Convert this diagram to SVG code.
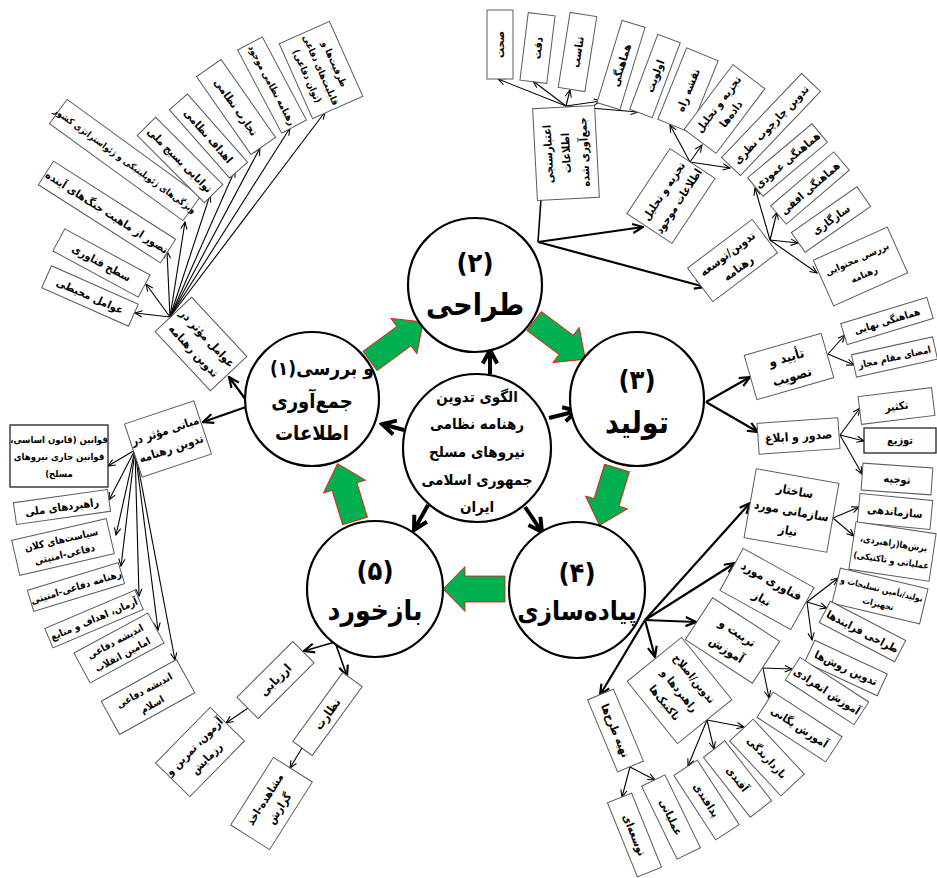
<svg xmlns="http://www.w3.org/2000/svg" width="937" height="878" viewBox="0 0 937 878">
<style>
.b{fill:#fff;stroke:#5a5a5a;stroke-width:1}
.bd{fill:#fff;stroke:#222;stroke-width:1.3}
.t{font-family:"DejaVu Sans Condensed","DejaVu Sans",sans-serif;font-stretch:condensed;font-weight:bold;font-size:11px;text-anchor:middle;direction:rtl;unicode-bidi:embed;fill:#000}
.c{fill:#fff;stroke:#000;stroke-width:2.2}
.ct{font-family:"DejaVu Sans Condensed","DejaVu Sans",sans-serif;font-stretch:condensed;font-weight:bold;font-size:27px;text-anchor:middle;direction:rtl;unicode-bidi:embed;fill:#000}
.l{stroke:#000;stroke-width:1.1;fill:none;marker-end:url(#ah)}
.L{stroke:#000;stroke-width:2.2;fill:none;marker-end:url(#AH)}
.X{stroke:#000;stroke-width:4;fill:none;marker-end:url(#XH)}
.p{stroke:#000;stroke-width:1.6;fill:none}
.g{fill:#00b050;stroke:#ff0000;stroke-width:0.8}
</style>
<defs>
<marker id="ah" viewBox="0 0 10 10" refX="9" refY="5" markerWidth="9" markerHeight="9" markerUnits="userSpaceOnUse" orient="auto"><path d="M1,1.5 L9,5 L1,8.5" fill="none" stroke="#000" stroke-width="1.2"/></marker>
<marker id="AH" viewBox="0 0 10 10" refX="9" refY="5" markerWidth="13" markerHeight="13" markerUnits="userSpaceOnUse" orient="auto"><path d="M1,1.5 L9,5 L1,8.5" fill="none" stroke="#000" stroke-width="1.7"/></marker>
<marker id="XH" viewBox="0 0 10 10" refX="8.5" refY="5" markerWidth="18" markerHeight="18" markerUnits="userSpaceOnUse" orient="auto"><path d="M1,1 L8.5,5 L1,9" fill="none" stroke="#000" stroke-width="2.2"/></marker>
</defs>
<rect width="937" height="878" fill="#fff"/>

<g id="connectors">
<line class="l" x1="170" y1="317" x2="135" y2="313"/>
<line class="l" x1="170" y1="317" x2="146" y2="284"/>
<line class="l" x1="170" y1="317" x2="167" y2="251"/>
<line class="l" x1="170" y1="317" x2="185" y2="222"/>
<line class="l" x1="170" y1="317" x2="210" y2="195"/>
<line class="l" x1="170" y1="317" x2="235" y2="170"/>
<line class="l" x1="170" y1="317" x2="260" y2="148"/>
<line class="l" x1="170" y1="317" x2="290" y2="128"/>
<line class="l" x1="170" y1="317" x2="325" y2="112"/>
<line class="L" x1="246" y1="400" x2="229" y2="377"/>
<line class="L" x1="246" y1="407" x2="203" y2="422"/>
<line class="l" x1="135" y1="450" x2="108" y2="466"/>
<line class="l" x1="135" y1="450" x2="109" y2="500"/>
<line class="l" x1="135" y1="450" x2="116" y2="535"/>
<line class="l" x1="135" y1="450" x2="121" y2="566"/>
<line class="l" x1="135" y1="450" x2="139" y2="596"/>
<line class="l" x1="135" y1="450" x2="158" y2="630"/>
<line class="l" x1="135" y1="450" x2="175" y2="660"/>
<line class="p" x1="538" y1="242" x2="541" y2="199"/>
<line class="L" x1="538" y1="242" x2="643" y2="227"/>
<line class="L" x1="538" y1="242" x2="705" y2="287"/>
<line class="l" x1="566" y1="106" x2="498" y2="79"/>
<line class="l" x1="566" y1="106" x2="533" y2="81"/>
<line class="l" x1="566" y1="106" x2="570" y2="90"/>
<line class="l" x1="566" y1="106" x2="601" y2="101"/>
<line class="l" x1="566" y1="106" x2="638" y2="112"/>
<line class="l" x1="690" y1="162" x2="670" y2="125"/>
<line class="l" x1="690" y1="162" x2="702" y2="145"/>
<line class="l" x1="690" y1="162" x2="730" y2="168"/>
<line class="l" x1="770" y1="240" x2="755" y2="188"/>
<line class="l" x1="770" y1="240" x2="777" y2="212"/>
<line class="l" x1="770" y1="240" x2="798" y2="243"/>
<line class="l" x1="770" y1="240" x2="817" y2="273"/>
<line class="L" x1="706" y1="402" x2="750" y2="377"/>
<line class="L" x1="706" y1="402" x2="758" y2="432"/>
<line class="l" x1="828" y1="354" x2="845" y2="335"/>
<line class="l" x1="828" y1="354" x2="854" y2="365"/>
<line class="l" x1="840" y1="435" x2="860" y2="408"/>
<line class="l" x1="840" y1="435" x2="864" y2="441"/>
<line class="l" x1="840" y1="435" x2="862" y2="474"/>
<line class="L" x1="645" y1="620" x2="750" y2="503"/>
<line class="L" x1="645" y1="620" x2="735" y2="563"/>
<line class="L" x1="645" y1="620" x2="696" y2="622"/>
<line class="L" x1="645" y1="620" x2="655" y2="657"/>
<line class="L" x1="645" y1="620" x2="600" y2="695"/>
<line class="l" x1="833" y1="518" x2="859" y2="507"/>
<line class="l" x1="833" y1="518" x2="854" y2="536"/>
<line class="l" x1="807" y1="602" x2="838" y2="578"/>
<line class="l" x1="807" y1="602" x2="827" y2="608"/>
<line class="l" x1="807" y1="602" x2="812" y2="640"/>
<line class="l" x1="763" y1="668" x2="792" y2="669"/>
<line class="l" x1="763" y1="668" x2="769" y2="698"/>
<line class="l" x1="707" y1="720" x2="744" y2="727"/>
<line class="l" x1="707" y1="720" x2="714" y2="749"/>
<line class="l" x1="707" y1="720" x2="688" y2="766"/>
<line class="l" x1="630" y1="767" x2="622" y2="797"/>
<line class="l" x1="630" y1="767" x2="655" y2="780"/>
<line class="L" x1="335" y1="642" x2="304" y2="651" style="stroke-width:1.6"/>
<line class="L" x1="335" y1="642" x2="347" y2="676" style="stroke-width:1.6"/>
<line class="l" x1="248" y1="708" x2="226" y2="723"/>
<line class="l" x1="302" y1="748" x2="290" y2="768"/>
<line class="X" x1="490" y1="374" x2="490" y2="350"/>
<line class="X" x1="404" y1="430" x2="382" y2="424"/>
<line class="X" x1="549" y1="418" x2="577" y2="411"/>
<line class="X" x1="428" y1="505" x2="414" y2="530"/>
<line class="X" x1="525" y1="507" x2="542" y2="532"/>
<path class="g" transform="translate(370,361) rotate(-36.3)" d="M0,-12 H42 V-22 L66,0 L42,22 V12 H0 Z"/>
<path class="g" transform="translate(534,321) rotate(36.7)" d="M0,-12 H40 V-22 L64,0 L40,22 V12 H0 Z"/>
<path class="g" transform="translate(617,468) rotate(107)" d="M0,-13 H36 V-22 L60,0 L36,22 V13 H0 Z"/>
<path class="g" transform="translate(505,589) rotate(180)" d="M0,-13 H40 V-22.5 L62,0 L40,22.5 V13 H0 Z"/>
<path class="g" transform="translate(355,521) rotate(-107)" d="M0,-13 H36 V-22 L60,0 L36,22 V13 H0 Z"/>
</g>

<g id="circle1"><circle class="c" cx="312" cy="399" r="67"/><text class="ct" x="283" y="375" style="font-size:19px">(۱)</text><text class="ct" x="335" y="375" style="font-size:19px">و بررسی</text><text class="ct" style="font-size:20px"><tspan x="312" y="408">جمع‌آوری</tspan><tspan x="312" y="440">اطلاعات</tspan></text></g>
<g id="circle2"><circle class="c" cx="475" cy="285" r="67"/><text class="ct"><tspan x="475" y="272">(۲)</tspan><tspan x="475" y="315" style="font-size:30px">طراحی</tspan></text></g>
<g id="circle3"><circle class="c" cx="637" cy="399" r="67"/><text class="ct"><tspan x="637" y="389">(۳)</tspan><tspan x="637" y="433" style="font-size:30px">تولید</tspan></text></g>
<g id="circle4"><circle class="c" cx="577" cy="590" r="68"/><text class="ct"><tspan x="577" y="582">(۴)</tspan><tspan x="577" y="620" style="font-size:26px">پیاده‌سازی</tspan></text></g>
<g id="circle5"><circle class="c" cx="375" cy="589" r="68"/><text class="ct"><tspan x="375" y="580">(۵)</tspan><tspan x="375" y="620" style="font-size:28px">بازخورد</tspan></text></g>
<g id="center"><circle class="c" cx="477" cy="448" r="74"/><text class="t" style="font-size:15px"><tspan x="477" y="402">الگوی تدوین</tspan><tspan x="477" y="429">رهنامه نظامی</tspan><tspan x="477" y="457">نیروهای مسلح</tspan><tspan x="477" y="485">جمهوری اسلامی</tspan><tspan x="477" y="512">ایران</tspan></text></g>

<g id="n_env" transform="translate(90,296) rotate(24)"><rect class="b" x="-47.5" y="-12" width="95" height="24"/><text class="t" y="4">عوامل محیطی</text></g>
<g id="n_tech" transform="translate(101.5,263) rotate(28.4)"><rect class="b" x="-48.5" y="-12.5" width="97" height="25"/><text class="t" y="4">سطح فناوری</text></g>
<g id="n_future" transform="translate(107,212) rotate(32.6)"><rect class="b" x="-72.5" y="-14" width="145" height="28"/><text class="t" y="4">تصور از ماهیت جنگ‌های آینده</text></g>
<g id="n_geo" transform="translate(125,160) rotate(36)"><rect class="b" x="-82.5" y="-15" width="165" height="30"/><text class="t" y="3.5" style="font-size:9px">ویژگی‌های ژئوپلیتیکی و ژئواستراتژی کشور</text></g>
<g id="n_mob" transform="translate(180,160) rotate(45)"><rect class="b" x="-47.5" y="-13" width="95" height="26"/><text class="t" y="4">توانایی بسیج ملی</text></g>
<g id="n_goal" transform="translate(208.5,136) rotate(48.6)"><rect class="b" x="-45.5" y="-12" width="91" height="24"/><text class="t" y="4">اهداف نظامی</text></g>
<g id="n_exp" transform="translate(236,107) rotate(55)"><rect class="b" x="-47.5" y="-15" width="95" height="30"/><text class="t" y="4">تجارب نظامی</text></g>
<g id="n_doc" transform="translate(272,85) rotate(62)"><rect class="b" x="-47" y="-14" width="94" height="28"/><text class="t" y="3.5" style="font-size:9.5px">رهنامه نظامی موجود</text></g>
<g id="n_cap" transform="translate(321,70) rotate(66)"><rect class="b" x="-41" y="-27.5" width="82" height="55"/><text class="t" style="font-size:9.5px"><tspan x="0" y="-11.5">ظرفیت‌ها و</tspan><tspan x="0" y="3.5">قابلیت‌های دفاعی</tspan><tspan x="0" y="18.5">(توان دفاعی)</tspan></text></g>
<g id="n_factors" transform="translate(201,344) rotate(47)"><rect class="b" x="-40.5" y="-25" width="81" height="50"/><text class="t" style="font-size:11.5px"><tspan x="0" y="-4.5">عوامل مؤثر در</tspan><tspan x="0" y="14">تدوین رهنامه</tspan></text></g>

<g id="n_basis" transform="translate(168,439) rotate(-18.4)"><rect class="b" x="-36.5" y="-28" width="73" height="56"/><text class="t" style="font-size:11.5px"><tspan x="0" y="-5">مبانی مؤثر در</tspan><tspan x="0" y="14">تدوین رهنامه</tspan></text></g>
<g id="n_law"><rect class="bd" x="10" y="425" width="98" height="62"/><text class="t" style="font-size:9.5px"><tspan x="59" y="443">قوانین (قانون اساسی،</tspan><tspan x="59" y="460">قوانین جاری نیروهای</tspan><tspan x="59" y="477">مسلح)</tspan></text></g>
<g id="n_natstr" transform="translate(62,507) rotate(-8)"><rect class="b" x="-47.5" y="-11" width="95" height="22"/><text class="t" y="4">راهبردهای ملی</text></g>
<g id="n_policy" transform="translate(63,547) rotate(-13)"><rect class="b" x="-48.5" y="-18" width="97" height="36"/><text class="t" style="font-size:10px"><tspan x="0" y="-4">سیاست‌های کلان</tspan><tspan x="0" y="11">دفاعی-امنیتی</tspan></text></g>
<g id="n_defdoc" transform="translate(76,587) rotate(-17)"><rect class="b" x="-47.5" y="-11" width="95" height="22"/><text class="t" y="3.5" style="font-size:10px">رهنامه دفاعی-امنیتی</text></g>
<g id="n_ideal" transform="translate(94,619) rotate(-23)"><rect class="b" x="-49" y="-10.5" width="98" height="21"/><text class="t" y="3.5" style="font-size:10px">آرمان، اهداف و منابع</text></g>
<g id="n_imam" transform="translate(119,648) rotate(-28.4)"><rect class="b" x="-42" y="-17" width="84" height="34"/><text class="t" style="font-size:10px"><tspan x="0" y="-4">اندیشه دفاعی</tspan><tspan x="0" y="11">امامین انقلاب</tspan></text></g>
<g id="n_islam" transform="translate(148,697) rotate(-29)"><rect class="b" x="-43" y="-19" width="86" height="38"/><text class="t" style="font-size:10px"><tspan x="0" y="-4">اندیشه دفاعی</tspan><tspan x="0" y="12">اسلام</tspan></text></g>

<g id="n_valid" transform="translate(566,153) rotate(-93)"><rect class="b" x="-46" y="-31" width="92" height="62"/><text class="t"><tspan x="0" y="-14">اعتبارسنجی</tspan><tspan x="0" y="4">اطلاعات</tspan><tspan x="0" y="22">جمع‌آوری شده</tspan></text></g>
<g id="n_sehat" transform="translate(500,44.5) rotate(-90)"><rect class="b" x="-34.5" y="-13" width="69" height="26"/><text class="t" y="4">صحت</text></g>
<g id="n_deghat" transform="translate(537.5,48) rotate(-83)"><rect class="b" x="-34" y="-13.5" width="68" height="27"/><text class="t" y="4">دقت</text></g>
<g id="n_tanasob" transform="translate(577.5,52) rotate(-81)"><rect class="b" x="-38" y="-13.5" width="76" height="27"/><text class="t" y="4">تناسب</text></g>
<g id="n_hamahangi" transform="translate(621,65) rotate(-73)"><rect class="b" x="-43" y="-12" width="86" height="24"/><text class="t" y="4">هماهنگی</text></g>
<g id="n_olaviat" transform="translate(655,76) rotate(-69.5)"><rect class="b" x="-40" y="-12" width="80" height="24"/><text class="t" y="4">اولویت</text></g>
<g id="n_analysis" transform="translate(671,196) rotate(-56.5)"><rect class="b" x="-39" y="-27" width="78" height="54"/><text class="t" style="font-size:11px"><tspan x="0" y="-5">تجزیه و تحلیل</tspan><tspan x="0" y="13">اطلاعات موجود</tspan></text></g>
<g id="n_roadmap" transform="translate(688,90) rotate(-68)"><rect class="b" x="-38.5" y="-17" width="77" height="34"/><text class="t" y="4">نقشه راه</text></g>
<g id="n_dataan" transform="translate(724.5,109) rotate(-53)"><rect class="b" x="-40.5" y="-20" width="81" height="40"/><text class="t"><tspan x="0" y="-4">تجزیه و تحلیل</tspan><tspan x="0" y="12">داده‌ها</tspan></text></g>
<g id="n_framework" transform="translate(771,124.5) rotate(-46.4)"><rect class="b" x="-58" y="-13" width="116" height="26"/><text class="t" y="4">تدوین چارچوب نظری</text></g>
<g id="n_develop" transform="translate(732.5,260.5) rotate(-37)"><rect class="b" x="-40.5" y="-21" width="81" height="42"/><text class="t" style="font-size:11.5px"><tspan x="0" y="-4.5">تدوین/توسعه</tspan><tspan x="0" y="13.5">رهنامه</tspan></text></g>
<g id="n_vert" transform="translate(787.5,160) rotate(-40)"><rect class="b" x="-42" y="-12" width="84" height="24"/><text class="t" y="4">هماهنگی عمودی</text></g>
<g id="n_horiz" transform="translate(810,188) rotate(-40.6)"><rect class="b" x="-41.5" y="-12" width="83" height="24"/><text class="t" y="4">هماهنگی افقی</text></g>
<g id="n_compat" transform="translate(831,219.5) rotate(-35)"><rect class="b" x="-40" y="-12" width="80" height="24"/><text class="t" y="4">سازگاری</text></g>
<g id="n_review" transform="translate(860.5,266.5) rotate(-24)"><rect class="b" x="-40.5" y="-25" width="81" height="50"/><text class="t" style="font-size:9.5px"><tspan x="0" y="-5">بررسی محتوایی</tspan><tspan x="0" y="12">رهنامه</tspan></text></g>

<g id="n_approve" transform="translate(789,366.5) rotate(-16)"><rect class="b" x="-40" y="-23" width="80" height="46"/><text class="t" style="font-size:13px"><tspan x="0" y="-5">تأیید و</tspan><tspan x="0" y="15">تصویب</tspan></text></g>
<g id="n_final" transform="translate(887,321) rotate(-17)"><rect class="b" x="-45" y="-11" width="90" height="22"/><text class="t" y="3.5" style="font-size:10px">هماهنگی نهایی</text></g>
<g id="n_sign" transform="translate(894.5,357) rotate(-12.5)"><rect class="b" x="-41.5" y="-11.5" width="83" height="23"/><text class="t" y="3.5" style="font-size:9.5px">امضای مقام مجاز</text></g>
<g id="n_issue" transform="translate(798.5,436) rotate(-4)"><rect class="b" x="-40.5" y="-15.5" width="81" height="31"/><text class="t" y="4.5" style="font-size:12px">صدور و ابلاغ</text></g>
<g id="n_copy" transform="translate(896.5,406) rotate(-7)"><rect class="b" x="-37" y="-14" width="74" height="28"/><text class="t" y="4">تکثیر</text></g>
<g id="n_dist"><rect class="bd" x="864" y="428" width="72" height="25"/><text class="t" x="900" y="444">توزیع</text></g>
<g id="n_brief" transform="translate(897,479) rotate(4)"><rect class="b" x="-35" y="-13.5" width="70" height="27"/><text class="t" y="4">توجیه</text></g>
<g id="n_struct" transform="translate(791.5,510.5) rotate(10)"><rect class="b" x="-42" y="-35" width="84" height="70"/><text class="t" style="font-size:12px"><tspan x="0" y="-15.5">ساختار</tspan><tspan x="0" y="4.5">سازمانی مورد</tspan><tspan x="0" y="24.5">نیاز</tspan></text></g>
<g id="n_org" transform="translate(895,511.5) rotate(5.5)"><rect class="b" x="-36.5" y="-14.5" width="73" height="29"/><text class="t" y="4">سازماندهی</text></g>
<g id="n_cuts" transform="translate(892.5,551.5) rotate(8.5)"><rect class="b" x="-40.5" y="-24" width="81" height="48"/><text class="t" style="font-size:9px"><tspan x="0" y="-5">برش‌ها(راهبردی،</tspan><tspan x="0" y="12">عملیاتی و تاکتیکی)</tspan></text></g>
<g id="n_techreq" transform="translate(767,589) rotate(29)"><rect class="b" x="-40.5" y="-24" width="81" height="48"/><text class="t" style="font-size:12px"><tspan x="0" y="-5">فناوری مورد</tspan><tspan x="0" y="15">نیاز</tspan></text></g>
<g id="n_arms" transform="translate(880,596) rotate(13.4)"><rect class="b" x="-45" y="-18" width="90" height="36"/><text class="t" style="font-size:8.5px"><tspan x="0" y="-4">تولید/تأمین تسلیحات و</tspan><tspan x="0" y="11">تجهیزات</tspan></text></g>
<g id="n_process" transform="translate(862.5,631.5) rotate(27.5)"><rect class="b" x="-42.5" y="-12" width="85" height="24"/><text class="t" y="4">طراحی فرایندها</text></g>
<g id="n_methods" transform="translate(846,668) rotate(25)"><rect class="b" x="-40" y="-12" width="80" height="24"/><text class="t" y="4">تدوین روش‌ها</text></g>
<g id="n_train" transform="translate(732.5,640.5) rotate(33)"><rect class="b" x="-40" y="-25" width="80" height="50"/><text class="t" style="font-size:12px"><tspan x="0" y="-5">تربیت و</tspan><tspan x="0" y="15">آموزش</tspan></text></g>
<g id="n_indiv" transform="translate(827,691) rotate(33)"><rect class="b" x="-41" y="-13.5" width="82" height="27"/><text class="t" y="4">آموزش انفرادی</text></g>
<g id="n_unit" transform="translate(799.5,727) rotate(33)"><rect class="b" x="-41" y="-15" width="82" height="30"/><text class="t" y="4">آموزش یگانی</text></g>
<g id="n_strat" transform="translate(679.5,690.5) rotate(51)"><rect class="b" x="-40" y="-35" width="80" height="70"/><text class="t" style="font-size:11px"><tspan x="0" y="-15">تدوین/اصلاح</tspan><tspan x="0" y="4">راهبردها و</tspan><tspan x="0" y="23">تاکتیک‌ها</tspan></text></g>
<g id="n_deter" transform="translate(767,757.5) rotate(47)"><rect class="b" x="-37.5" y="-16" width="75" height="32"/><text class="t" y="4">بازدارندگی</text></g>
<g id="n_offense" transform="translate(737.5,779) rotate(52)"><rect class="b" x="-38" y="-13.5" width="76" height="27"/><text class="t" y="4">آفندی</text></g>
<g id="n_defense" transform="translate(706.5,800) rotate(57)"><rect class="b" x="-38.5" y="-14" width="77" height="28"/><text class="t" y="4">پدافندی</text></g>
<g id="n_plans" transform="translate(615.5,730.5) rotate(67.4)"><rect class="b" x="-39" y="-14" width="78" height="28"/><text class="t" y="4" style="font-size:11px">تهیه طرح‌ها</text></g>
<g id="n_devplan" transform="translate(634.5,835) rotate(68)"><rect class="b" x="-40" y="-13" width="80" height="26"/><text class="t" y="4">توسعه‌ای</text></g>
<g id="n_opplan" transform="translate(671,817) rotate(64)"><rect class="b" x="-40.5" y="-13" width="81" height="26"/><text class="t" y="4">عملیاتی</text></g>

<g id="n_eval" transform="translate(275.5,680) rotate(-45)"><rect class="b" x="-39.5" y="-15" width="79" height="30"/><text class="t" y="4" style="font-size:12px">ارزیابی</text></g>
<g id="n_super" transform="translate(327.5,714) rotate(-54)"><rect class="b" x="-42.5" y="-12" width="85" height="24"/><text class="t" y="4" style="font-size:12px">نظارت</text></g>
<g id="n_exer" transform="translate(200,752) rotate(-45.5)"><rect class="b" x="-39" y="-24" width="78" height="48"/><text class="t"><tspan x="0" y="-4">آزمون، تمرین و</tspan><tspan x="0" y="13">رزمایش</tspan></text></g>
<g id="n_observe" transform="translate(271.5,803.5) rotate(-57.7)"><rect class="b" x="-40" y="-23" width="80" height="46"/><text class="t"><tspan x="0" y="-4">مشاهده-اخذ</tspan><tspan x="0" y="13">گزارش</tspan></text></g>
</svg>
